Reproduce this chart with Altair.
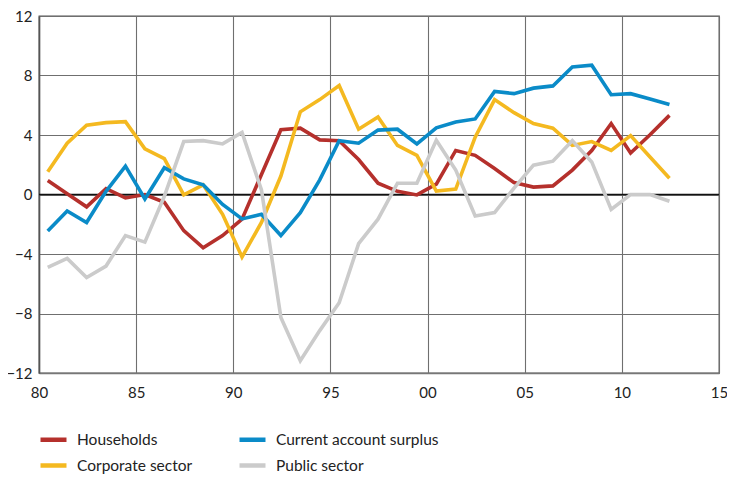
import altair as alt
import pandas as pd

years = [1980 + i + 0.45 for i in range(33)]

households = [0.94, 0.05, -0.83, 0.39, -0.23, 0.0, -0.52, -2.43, -3.58, -2.76, -1.66,
              1.35, 4.35, 4.46, 3.67, 3.62, 2.35, 0.76, 0.21, -0.03, 0.7,
              2.96, 2.63, 1.75, 0.80, 0.50, 0.58, 1.64, 2.96, 4.77, 2.79, 4.02, 5.32]
corporate = [1.53, 3.45, 4.66, 4.83, 4.90, 3.07, 2.41, -0.03, 0.65, -1.33, -4.2,
             -1.88, 1.24, 5.56, 6.38, 7.32, 4.39, 5.21, 3.30, 2.63, 0.23,
             0.36, 3.85, 6.38, 5.50, 4.77, 4.46, 3.30, 3.56, 2.96, 3.96, 2.52, 1.09]
current_account = [-2.46, -1.11, -1.88, 0.21, 1.91, -0.30, 1.80, 1.05, 0.65, -0.67, -1.64,
                   -1.33, -2.76, -1.22, 0.98, 3.62, 3.45, 4.33, 4.39, 3.40, 4.48,
                   4.88, 5.08, 6.93, 6.78, 7.15, 7.30, 8.58, 8.69, 6.71, 6.78, 6.42, 6.05]
public = [-4.90, -4.30, -5.58, -4.81, -2.76, -3.20, -0.12, 3.56, 3.62, 3.40, 4.17,
          0.3, -8.27, -11.18, -9.15, -7.28, -3.31, -1.66, 0.76, 0.76, 3.65,
          1.64, -1.44, -1.22, 0.43, 1.97, 2.24, 3.62, 2.19, -1.00, -0.01, -0.01, -0.45]

series_names = ["Households", "Current account surplus", "Corporate sector", "Public sector"]
series_colors = ["#B5302C", "#0A8BC8", "#F4B920", "#CBCBCB"]
draw_order = ["Public sector", "Current account surplus", "Corporate sector", "Households"]

frames = []
for name, vals in zip(["Households", "Corporate sector", "Current account surplus", "Public sector"],
                      [households, corporate, current_account, public]):
    frames.append(pd.DataFrame({"year": years, "value": vals, "series": name,
                                "order": draw_order.index(name)}))
df = pd.concat(frames, ignore_index=True)

x_ticks = list(range(1980, 2016, 5))
y_ticks = list(range(-12, 13, 4))

lines = alt.Chart(df).mark_line(strokeWidth=3.6, strokeJoin="miter").encode(
    x=alt.X("year:Q", scale=alt.Scale(domain=[1980, 2015], nice=False, zero=False),
            axis=alt.Axis(values=x_ticks, title=None,
                          labelExpr="substring(toString(datum.value), 2)",
                          labelFlush=False, labelOverlap=False,
                          grid=True, gridColor="#6f6f6f", gridWidth=1.1,
                          domain=True, domainColor="#777777", domainWidth=1.3,
                          ticks=False, labelPadding=12, labelFontSize=15,
                          labelFont="Lato", labelColor="#222222")),
    y=alt.Y("value:Q", scale=alt.Scale(domain=[-12, 12], nice=False),
            axis=alt.Axis(values=y_ticks, title=None, grid=True, gridColor="#6f6f6f",
                          labelFlush=False, labelOverlap=False,
                          gridWidth=1.1, domain=True, domainColor="#555555", domainWidth=1.6,
                          ticks=False, labelPadding=7, labelFontSize=15,
                          labelFont="Lato", labelColor="#222222")),
    color=alt.Color("series:N", scale=alt.Scale(domain=series_names, range=series_colors),
                    sort=series_names,
                    legend=alt.Legend(title=None, orient="none", legendX=-1, legendY=408,
                                      columns=2, direction="horizontal",
                                      symbolType="stroke", symbolSize=676,
                                      symbolStrokeWidth=4.5, labelFontSize=15.5,
                                      labelFont="Lato", labelColor="#222222",
                                      labelLimit=0,
                                      labelOffset=8, columnPadding=37, rowPadding=1,
                                      padding=0)),
    detail="series:N",
    order="order:Q",
)

zero = alt.Chart(pd.DataFrame({"y": [0]})).mark_rule(color="#111111", strokeWidth=1.5).encode(
    y=alt.Y("y:Q")
)

chart = alt.layer(zero, lines).properties(
    width=680, height=357,
    autosize=alt.AutoSizeParams(type="none"),
    padding={"left": 31, "top": 8, "right": 8, "bottom": 104},
).configure_view(stroke="#555555", strokeWidth=1.3)

chart.save("out.html", embed_options={"renderer": "svg", "actions": False})
